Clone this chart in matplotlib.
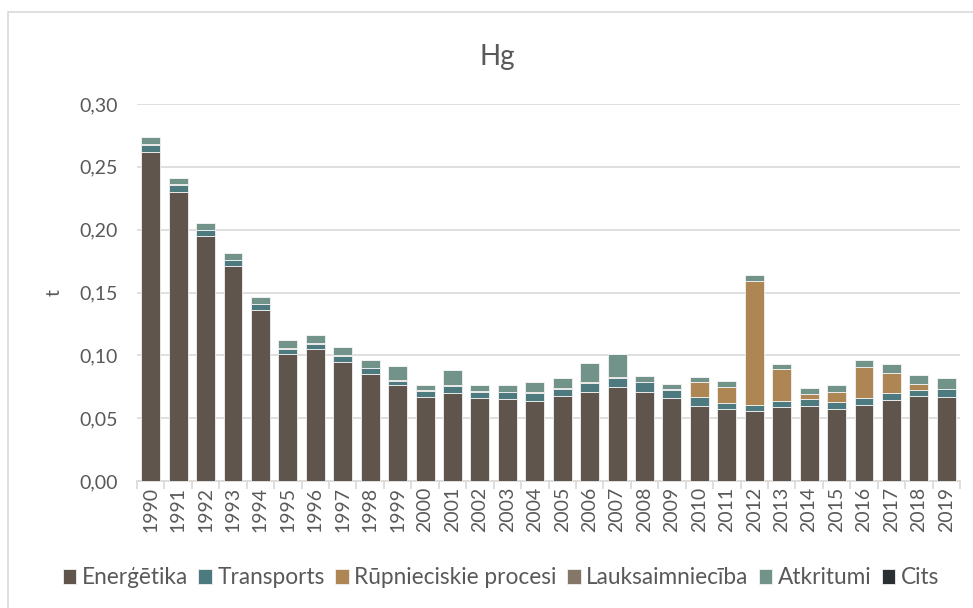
import matplotlib.pyplot as plt
import numpy as np
from matplotlib.patches import Rectangle
from matplotlib.ticker import FuncFormatter

years = [str(y) for y in range(1990, 2020)]

energetika = [0.262, 0.230, 0.195, 0.171, 0.136, 0.101, 0.105, 0.095, 0.085, 0.076,
              0.067, 0.070, 0.066, 0.065, 0.064, 0.068, 0.071, 0.0745, 0.071, 0.066,
              0.0595, 0.057, 0.056, 0.0585, 0.060, 0.057, 0.0605, 0.0645, 0.0675, 0.067]
transports = [0.0054, 0.0055, 0.0045, 0.0046, 0.0045, 0.0043, 0.0038, 0.0048, 0.0048, 0.0037,
              0.0043, 0.0058, 0.0045, 0.0058, 0.0058, 0.0056, 0.0066, 0.0077, 0.0077, 0.0067,
              0.0077, 0.0053, 0.0045, 0.0050, 0.0053, 0.0055, 0.0058, 0.0053, 0.0053, 0.0059]
rupniec = [0.0010, 0.0008, 0.0003, 0.0003, 0.0002, 0.0002, 0.0008, 0.0003, 0.0003, 0.0008,
           0.0008, 0.0003, 0.0008, 0.0003, 0.0008, 0.0008, 0.0008, 0.0003, 0.0003, 0.0003,
           0.0114, 0.0127, 0.0987, 0.0255, 0.0040, 0.0085, 0.0242, 0.0161, 0.0047, 0.0003]
lauks = [0.0] * 30
atkritumi = [0.0051, 0.0051, 0.0053, 0.0055, 0.0054, 0.0066, 0.0066, 0.0068, 0.0064, 0.0114,
             0.0042, 0.0120, 0.0048, 0.0053, 0.0085, 0.0079, 0.0154, 0.0188, 0.0042, 0.0044,
             0.0045, 0.0045, 0.0048, 0.0045, 0.0048, 0.0056, 0.0058, 0.0075, 0.0067, 0.0084]
cits = [0.0] * 30

series = [
    ("Enerģētika", energetika, "#5f554c"),
    ("Transports", transports, "#4d7a7e"),
    ("Rūpnieciskie procesi", rupniec, "#ae8654"),
    ("Lauksaimniecība", lauks, "#857768"),
    ("Atkritumi", atkritumi, "#71938a"),
    ("Cits", cits, "#2a2f33"),
]

plt.rcParams['font.family'] = ['Lato', 'DejaVu Sans']

fig = plt.figure(figsize=(9.73, 6.08), dpi=100)
ax = fig.add_axes([137 / 973, 1 - 481 / 608, 823 / 973, 377 / 608])

fig.patches.append(Rectangle((8 / 973, -0.01), 1.0, 1 - 12 / 608 + 0.01,
                             transform=fig.transFigure, fill=False,
                             edgecolor="#d9d9d9", linewidth=1.2))

x = np.arange(len(years))
bottom = np.zeros(len(years))
for name, vals, col in series:
    vals = np.array(vals)
    ax.bar(x, vals, width=0.69, bottom=bottom, color=col, label=name,
           edgecolor="#f2f2f2", linewidth=0.6, zorder=3)
    bottom += vals

ax.set_xlim(-0.5, len(years) - 0.5)
ax.set_ylim(0, 0.30)
ax.set_yticks(np.arange(0, 0.301, 0.05))
ax.yaxis.set_major_formatter(FuncFormatter(lambda v, p: f"{v:.2f}".replace(".", ",")))
ax.grid(axis="y", color="#d9d9d9", linewidth=1.2, zorder=0)
ax.set_axisbelow(True)

ax.set_xticks(x)
ax.set_xticklabels(years, rotation=90)
ax.set_xticks(np.arange(-0.5, len(years), 1), minor=True)
ax.tick_params(axis="x", which="major", length=0, pad=4, labelsize=14, labelcolor="#595959")
ax.tick_params(axis="x", which="minor", length=6, color="#d9d9d9", width=1.2)
ax.tick_params(axis="y", length=0, pad=14, labelsize=14, labelcolor="#595959")

for s in ["top", "right", "left"]:
    ax.spines[s].set_visible(False)
ax.spines["bottom"].set_color("#d9d9d9")
ax.spines["bottom"].set_linewidth(1.2)

ax.set_ylabel("t", fontsize=14, color="#595959", labelpad=12)
fig.text(497 / 973, 1 - 57 / 608, "Hg", ha="center", va="center", fontsize=20, color="#595959")

fig.legend(loc="center", bbox_to_anchor=(0.515, 1 - 578 / 608), ncol=6, frameon=False,
           fontsize=16.3, labelcolor="#595959", handlelength=0.6, handleheight=0.6,
           handletextpad=0.25, columnspacing=0.45)

fig.savefig("out.png", dpi=100)
